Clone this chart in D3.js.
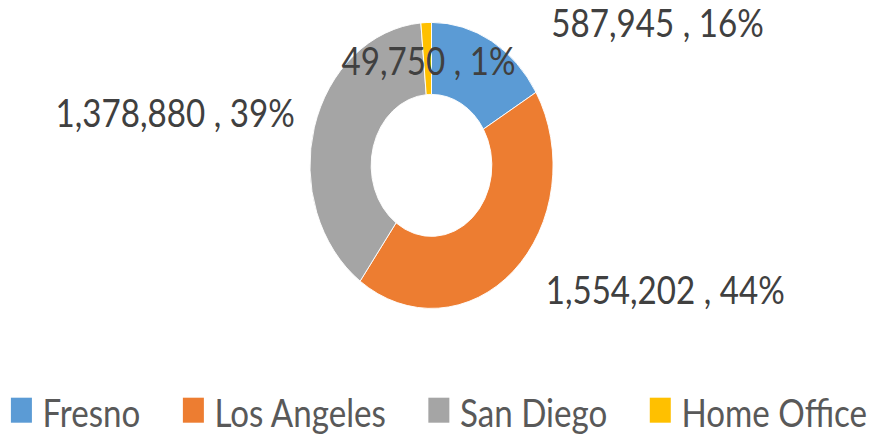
<!DOCTYPE html>
<html>
<head>
<meta charset="utf-8">
<script src="https://cdn.jsdelivr.net/npm/d3@7"></script>
<style>
    body { margin: 0; background: #fff; }
    text { font-family: Lato, "Open Sans", sans-serif; }
</style>
</head>
<body>
<div class="graph"></div>
<script>
// data
const offices = ['Fresno', 'Los Angeles', 'San Diego', 'Home Office']
const amounts = [587945, 1554202, 1378880, 49750]
const colours = ['#5B9BD5', '#ED7D31', '#A5A5A5', '#FFC000']

// label layout (angle from 12 o'clock in degrees, radius as share of outer radius)
const labelAngle = [61.8, 114.3, -80.2, -1.9]
const labelRadius = [2.11, 2.11, 2.14, 0.73]

// config
const w = 872
const h = 438
const sx = 0.85 // the picture is squeezed sideways
const centre = {x: 431.5 / sx, y: 165.4}
const outer = 143
const inner = 71

const rows = offices.map((name, i) => ({name: name, value: amounts[i], colour: colours[i]}))
const total = d3.sum(amounts)
const fmt = d3.format(',')

const svg = d3.select('.graph')
    .append('svg')
    .attr('width', w)
    .attr('height', h)

const root = svg.append('g')
    .attr('transform', 'scale(' + sx + ',1)')

const pie = d3.pie()
    .sort(null)
    .value(d => d.value)

const arc = d3.arc()
    .innerRadius(inner)
    .outerRadius(outer)

const donut = root.append('g')
    .attr('transform', 'translate(' + centre.x + ',' + centre.y + ')')

donut.selectAll('path.slice')
    .data(pie(rows))
    .join('path')
    .attr('class', 'slice')
    .attr('d', arc)
    .attr('fill', d => d.data.colour)
    .attr('stroke', '#fff')
    .attr('stroke-width', 1)

// data labels
donut.selectAll('text.point-label')
    .data(pie(rows))
    .join('text')
    .attr('class', 'point-label')
    .attr('x', (d, i) => Math.sin(labelAngle[i] * Math.PI / 180) * labelRadius[i] * outer)
    .attr('y', (d, i) => -Math.cos(labelAngle[i] * Math.PI / 180) * labelRadius[i] * outer)
    .attr('dy', '0.36em')
    .attr('text-anchor', 'middle')
    .attr('font-size', 39)
    .attr('fill', '#404040')
    .text(d => fmt(d.data.value) + ' , ' + Math.round(100 * d.data.value / total) + '%')

// legend
const legend = root.append('g')
    .attr('transform', 'translate(0,' + 397.7 + ')')

const items = legend.selectAll('g.item')
    .data(rows)
    .join('g')
    .attr('class', 'item')

items.append('rect')
    .attr('width', 21 / sx)
    .attr('height', 25)
    .attr('fill', d => d.colour)

items.append('text')
    .attr('x', 21 / sx + 12.5)
    .attr('y', 29)
    .attr('font-size', 39)
    .attr('fill', '#595959')
    .text(d => d.name)

// flow the items left to right and centre them
const gap = 50
let cursor = 0
const starts = []
items.each(function () {
    starts.push(cursor)
    cursor += this.getBBox().width + gap
})
const legendWidth = cursor - gap
const left = (439 / sx) - legendWidth / 2
items.attr('transform', (d, i) => 'translate(' + (left + starts[i]) + ',0)')
</script>
</body>
</html>
